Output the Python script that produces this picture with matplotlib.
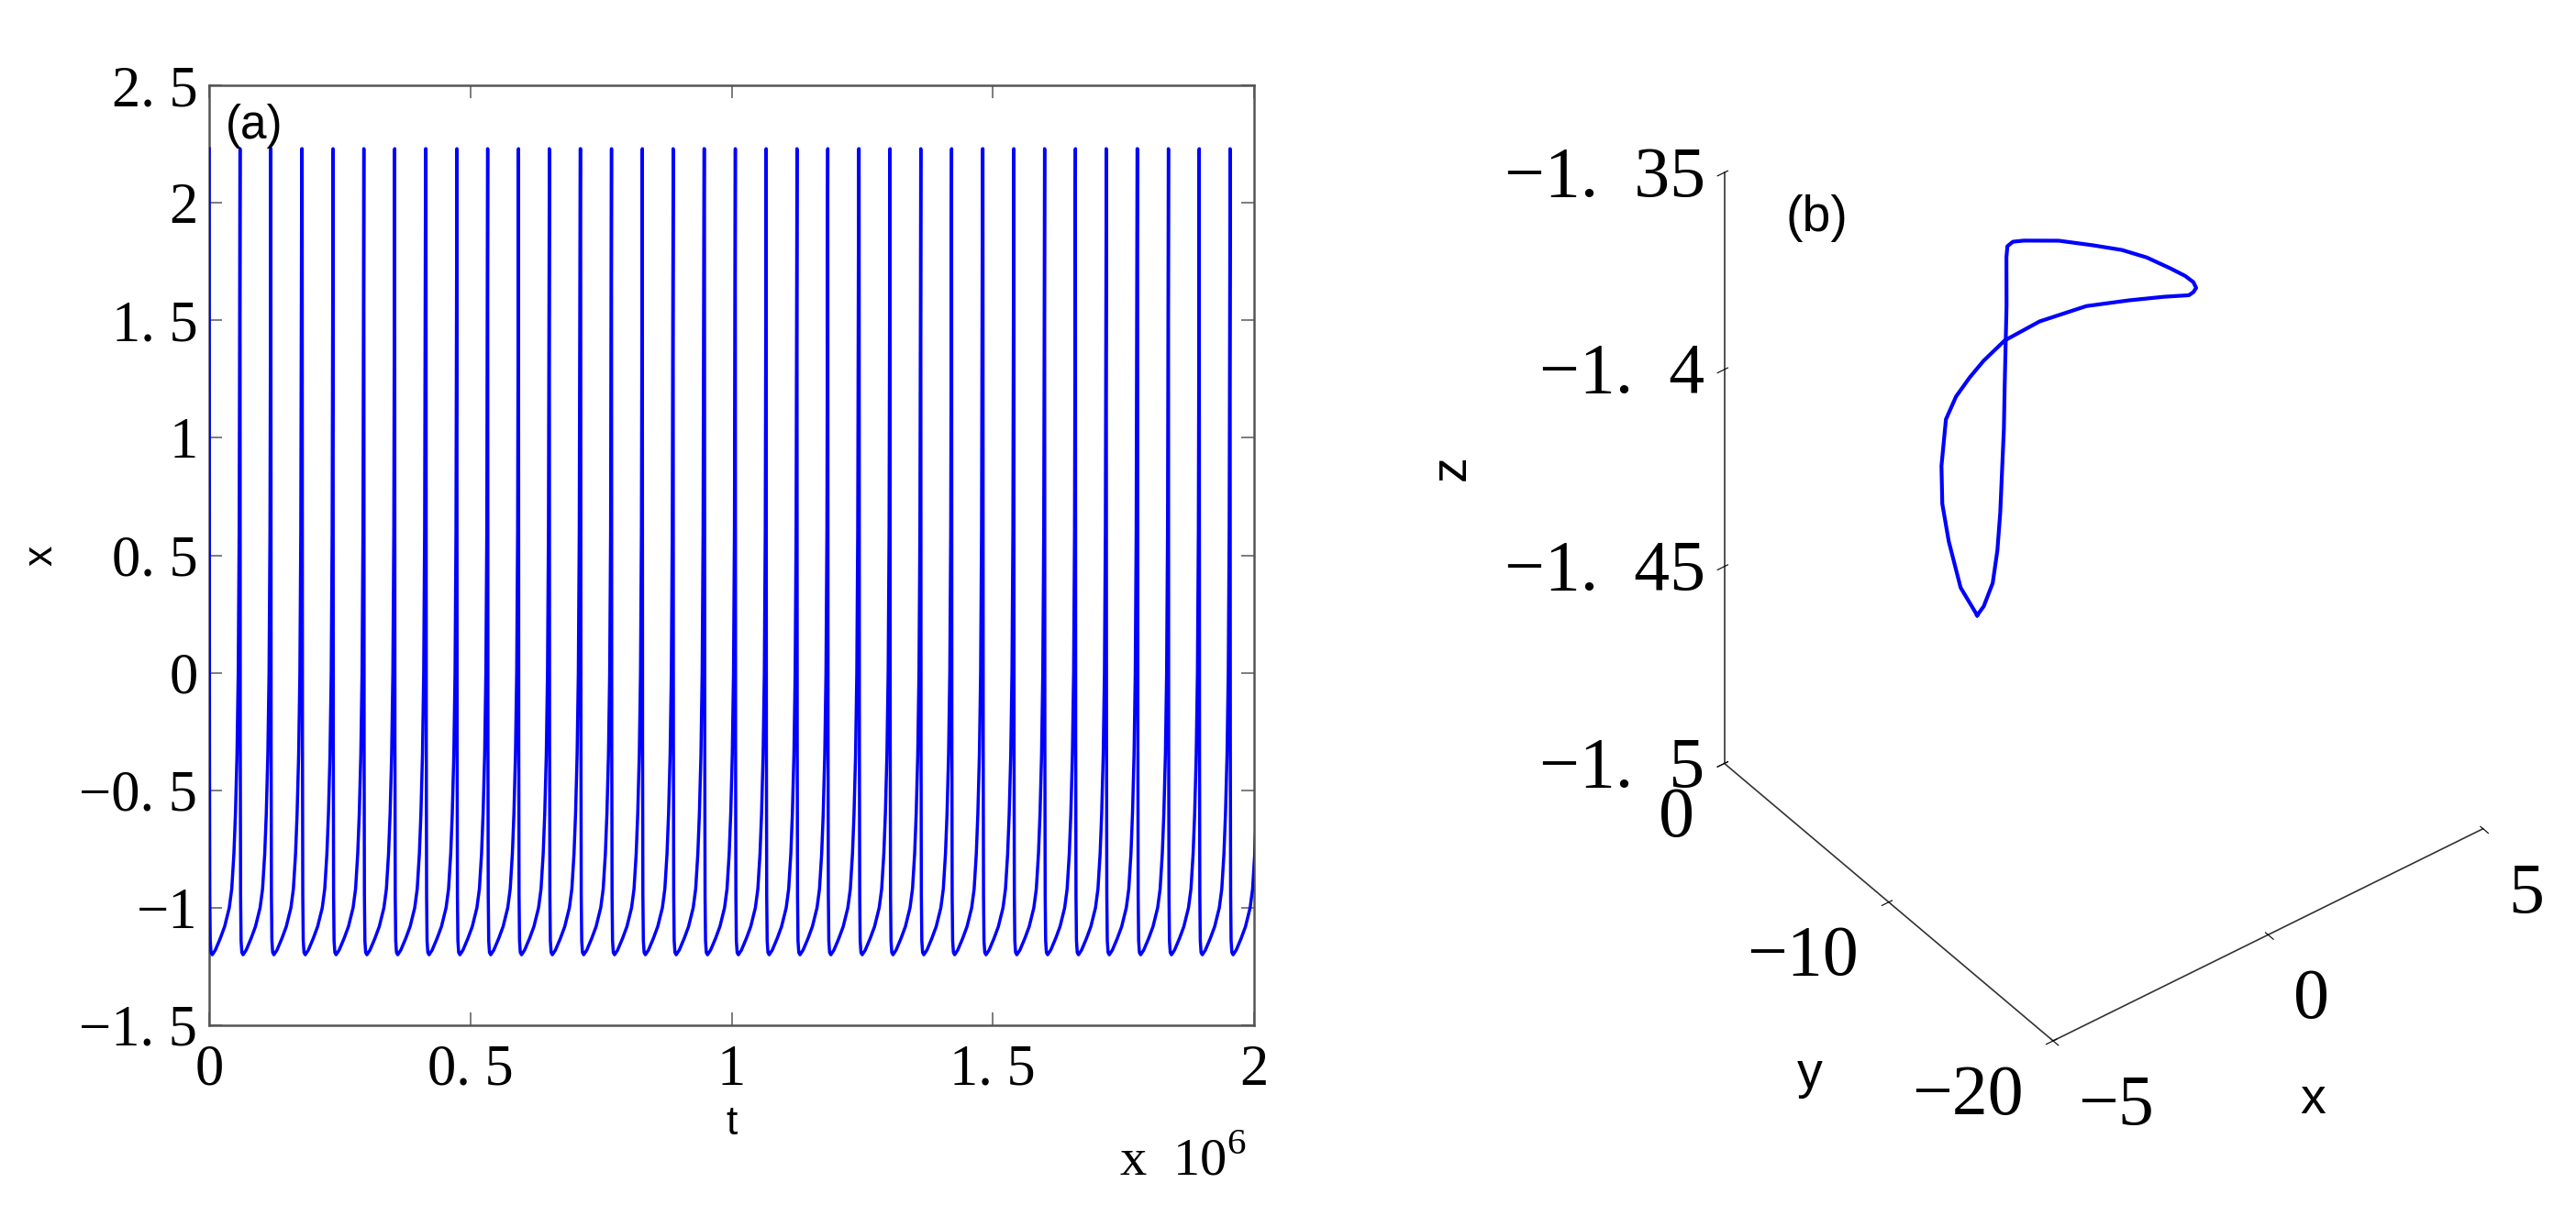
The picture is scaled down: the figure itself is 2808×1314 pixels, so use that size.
import numpy as np
import matplotlib
matplotlib.use('Agg')
import matplotlib.pyplot as plt
from mpl_toolkits.mplot3d import proj3d

plt.rcParams['mathtext.fontset'] = 'custom'
plt.rcParams['mathtext.rm'] = 'Liberation Serif'
SERIF = 'Liberation Serif'
SANS = 'Liberation Sans'

# ---- panel (a): x(t), t in units of 1e6 ----
spike_t = [0.000, 0.059, 0.118, 0.178, 0.237, 0.296, 0.355, 0.415, 0.474,
           0.533, 0.592, 0.651, 0.711, 0.770, 0.829, 0.888, 0.948, 1.007,
           1.066, 1.125, 1.184, 1.244, 1.303, 1.362, 1.421, 1.481, 1.540,
           1.599, 1.658, 1.717, 1.777, 1.836, 1.895, 1.954]
period = 0.0592
# one cycle, phase 0 = peak
cycle_phase = [0.0, 0.004, 0.01, 0.02, 0.035, 0.06, 0.1, 0.2, 0.36, 0.5,
               0.65, 0.73, 0.8, 0.85, 0.9, 0.94, 0.97, 0.99, 1.0]
cycle_x = [2.23, 1.0, -0.3, -0.95, -1.14, -1.19, -1.2, -1.18, -1.13, -1.08,
           -1.0, -0.92, -0.77, -0.6, -0.35, 0.0, 0.6, 1.6, 2.23]

t_ticks = [0, 0.5, 1, 1.5, 2]
t_labels = ['0', '0. 5', '1', '1. 5', '2']
xa_ticks = [-1.5, -1, -0.5, 0, 0.5, 1, 1.5, 2, 2.5]
xa_labels = ['\u22121. 5', '\u22121', '\u22120. 5', '0', '0. 5', '1', '1. 5', '2', '2. 5']

# ---- panel (b): limit cycle ----
orbit_x = [-1.20, -1.195, -1.185, -1.17, -1.155, -1.135, -1.11, -1.08, -1.05,
           -0.95, -0.75, -0.40, 0.20, 1.00, 1.80, 2.05, 2.20, 2.15, 2.00, 1.75,
           1.40, 1.05, 0.70, 0.25, -0.20, -0.40, -0.60, -0.68, -0.75, -0.90,
           -0.98, -1.08, -1.12, -1.16, -1.19, -1.20]
orbit_y = [-5.44, -4.42, -3.67, -3.24, -3.15, -3.37, -3.92, -4.68, -5.44,
           -6.46, -8.06, -9.99, -10.98, -11.06, -10.47, -10.09, -9.87, -9.83,
           -9.72, -9.48, -8.95, -8.36, -7.55, -6.61, -5.66, -5.52, -5.71, -5.86,
           -6.05, -6.33, -6.49, -6.53, -6.46, -6.28, -5.81, -5.44]
orbit_z = [-1.4637, -1.4603, -1.4512, -1.4433, -1.4341, -1.4216, -1.4140,
           -1.4066, -1.3999, -1.3917, -1.3823, -1.3735, -1.3718, -1.3749,
           -1.3809, -1.3828, -1.3833, -1.3817, -1.3797, -1.3773, -1.3745,
           -1.3728, -1.3726, -1.3723, -1.3732, -1.3729, -1.3723, -1.3741,
           -1.3854, -1.4038, -1.4138, -1.4345, -1.4441, -1.4528, -1.4602, -1.4637]

bx_ticks = [-5, 0, 5]
bx_labels = ['\u22125', '0', '5']
by_ticks = [-20, -10, 0]
by_labels = ['\u221220', '\u221210', '0']
bz_ticks = [-1.5, -1.45, -1.4, -1.35]
bz_labels = ['\u22121.  5', '\u22121.  45', '\u22121.  4', '\u22121.  35']

W, H = 2808, 1314
fig = plt.figure(figsize=(W / 100, H / 100), dpi=100)

# panel (a)
ax = fig.add_axes([228 / W, 1 - 1118 / H, 1139 / W, 1025 / H])
t = np.concatenate([s + np.array(cycle_phase) * period for s in spike_t])
xv = np.tile(cycle_x, len(spike_t))
ax.plot(t, xv, color='blue', lw=2.5, zorder=3)
ax.set_xlim(0, 2)
ax.set_ylim(-1.5, 2.5)
ax.set_xticks(t_ticks, t_labels, fontsize=45, family=SERIF)
ax.set_yticks(xa_ticks, xa_labels, fontsize=45, family=SERIF)
ax.tick_params(direction='in', length=10, width=1.2, color='#666666',
               top=True, right=True)
ax.tick_params(axis='x', pad=15)
ax.tick_params(axis='y', pad=9)
for sp in ax.spines.values():
    sp.set_color('#555555')
    sp.set_linewidth(1.8)
ax.set_xlabel('t', fontsize=32, family=SANS)
ax.set_ylabel('x', fontsize=32, family=SANS)
ax.xaxis.set_label_coords(0.5, -0.085)
ax.yaxis.set_label_coords(-0.143, 0.5)
ax.text(0.043, 0.957, '(a)', transform=ax.transAxes, ha='center', va='center',
        fontsize=37, family=SANS)
ax.text(0.871, -0.144, 'x  10$^{6}$', transform=ax.transAxes, ha='left',
        va='center', fontsize=42, family=SERIF)

# panel (b)
side = 1200
ax3 = fig.add_axes([0.6, 0.05, side / W, side / H], projection='3d')
ax3.set_proj_type('ortho')
ax3.view_init(elev=40.2, azim=-127.4)
ax3.set_box_aspect((1, 1, 1.43))
ax3.plot(orbit_x, orbit_y, orbit_z, color='blue', lw=3)
ax3.set_xlim(-5, 5)
ax3.set_ylim(-20, 0)
ax3.set_zlim(-1.5, -1.35)
ax3.set_xticks(bx_ticks, bx_labels, fontsize=56, family=SERIF)
ax3.set_yticks(by_ticks, by_labels, fontsize=56, family=SERIF)
ax3.set_zticks(bz_ticks, bz_labels, fontsize=56, family=SERIF)
ax3.grid(False)
ax3.patch.set_facecolor('none')
for axis in (ax3.xaxis, ax3.yaxis, ax3.zaxis):
    axis.pane.fill = False
    axis.pane.set_edgecolor('none')
    axis.line.set_color('#333333')
    axis.line.set_linewidth(1.2)
ax3.tick_params(axis='x', pad=25)
ax3.tick_params(axis='y', pad=22)
ax3.tick_params(axis='z', pad=3)
for lab in ax3.get_xticklabels():
    lab.set_ha('left')
    lab.set_va('center')
for lab in ax3.get_yticklabels():
    lab.set_ha('right')
    lab.set_va('center')
for lab in ax3.get_zticklabels():
    lab.set_ha('right')
    lab.set_va('center_baseline')

# place the 3D box so its corners land where the reference has them
fig.canvas.draw()
M = ax3.get_proj()


def corner_px(x, y, z):
    u, v, _ = proj3d.proj_transform(x, y, z, M)
    return np.array(ax3.transData.transform((u, v)))


p0 = corner_px(-5, -20, -1.5)
p1 = corner_px(-5, 0, -1.35)
tgt0 = np.array([2238.0, H - 1135.0])
tgt1 = np.array([1880.0, H - 188.0])
s = np.linalg.norm(tgt1 - tgt0) / np.linalg.norm(p1 - p0)
bb = ax3.get_position()
A = np.array([bb.x0 * W, bb.y0 * H])
A2 = tgt0 - s * (p0 - A)
ax3.set_position([A2[0] / W, A2[1] / H, bb.width * s, bb.height * s])

# axis names of panel (b)
fig.text(2521 / W, 1 - 1200 / H, 'x', ha='center', va='center', fontsize=40, family=SANS)
fig.text(1973 / W, 1 - 1172 / H, 'y', ha='center', va='center', fontsize=40, family=SANS)
fig.text(1583 / W, 1 - 510 / H, 'z', ha='center', va='center', rotation=90,
         fontsize=40, family=SANS)
fig.text(1980 / W, 1 - 238 / H, '(b)', ha='center', va='center',
         fontsize=40, family=SANS)

fig.savefig('out.png', dpi=100)
